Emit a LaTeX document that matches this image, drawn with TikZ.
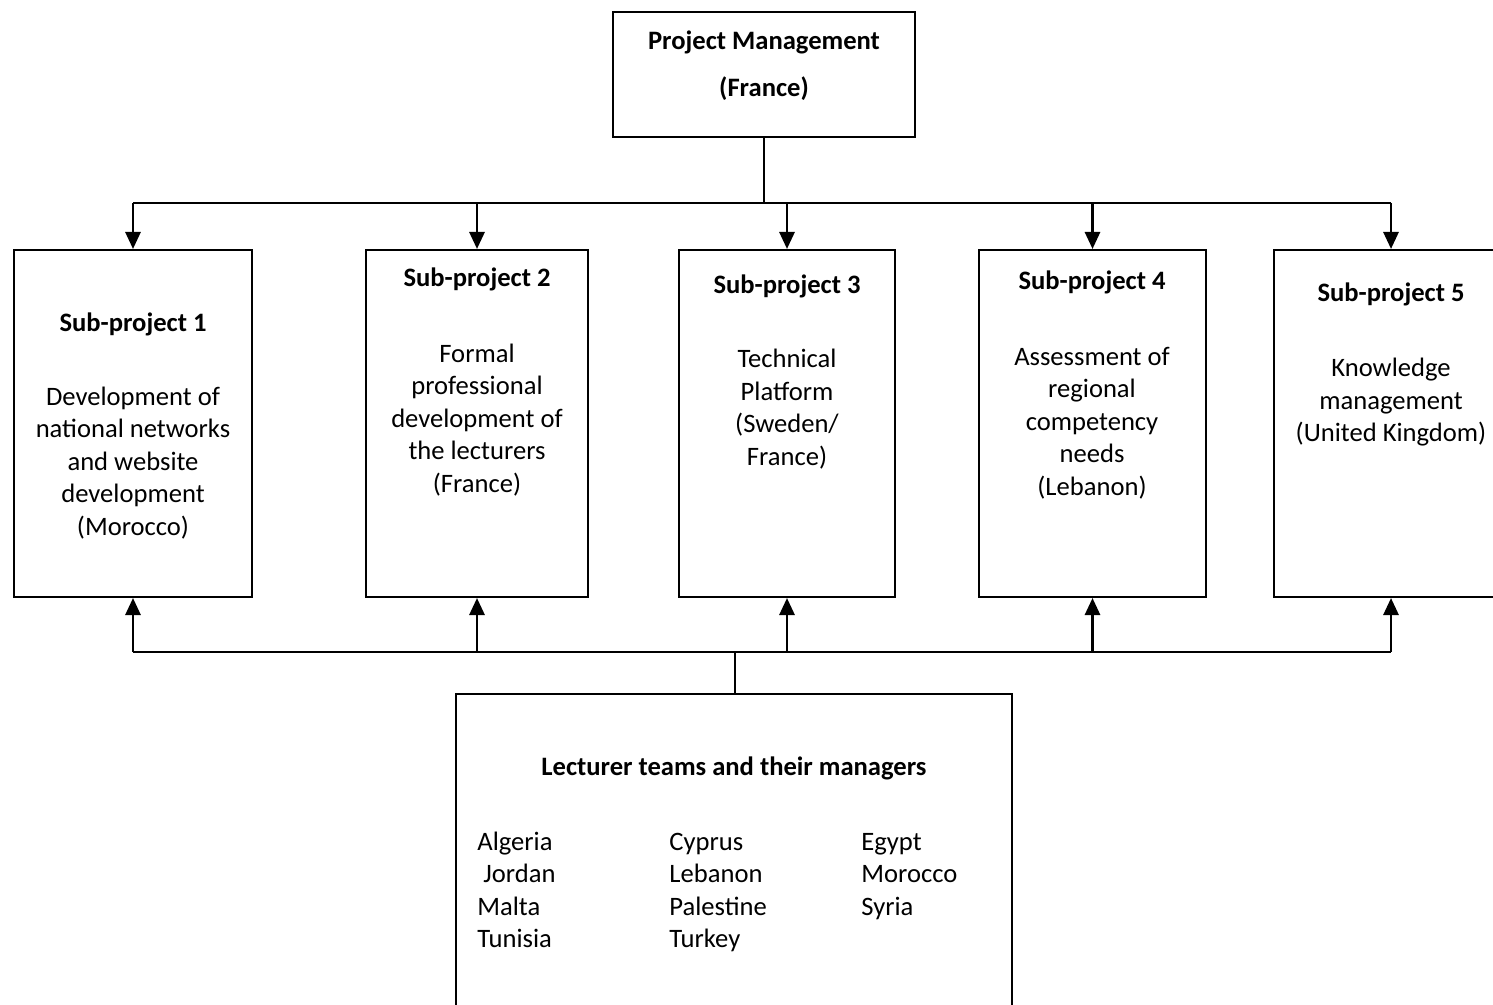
\documentclass[tikz,border=0pt]{standalone}
\usepackage{fontspec}
\setmainfont{Carlito}
\usetikzlibrary{arrows.meta}
\begin{document}
\begin{tikzpicture}[x=0.5pt,y=-0.5pt,
  box/.style={draw,line width=1pt,inner sep=0pt,minimum height=173.5pt},
  txt/.style={align=center,inner sep=0pt,font=\fontsize{13.3}{16.25}\selectfont},
  ttl/.style={align=center,inner sep=0pt,font=\fontsize{13.3}{16.25}\selectfont\bfseries},
  lst/.style={inner sep=0pt,anchor=west,text height=9pt,text depth=3pt,font=\fontsize{13.3}{16.25}\selectfont},
  conn/.style={line width=1.4pt},
  arr/.style={line width=1.4pt,-{Triangle[length=8.5pt,width=7.5pt]}},
  thin/.style={line width=1pt}]
\clip (0,0) rectangle (1493,1005);
\useasboundingbox (0,0) rectangle (1493,1005);
% top box
\node[draw,line width=1pt,inner sep=0pt,minimum width=151pt,minimum height=62.5pt] (top) at (764,74.5) {};
\node[ttl,font=\fontsize{13.3}{23.5}\selectfont\bfseries] (toptxt) at (764,66) {Project Management\\(France)};
% sub-project boxes
\node[box,minimum width=119pt] (b1) at (133,423.5) {};
\node[box,minimum width=111pt] (b2) at (477,423.5) {};
\node[box,minimum width=108pt] (b3) at (787,423.5) {};
\node[box,minimum width=113.5pt] (b4) at (1092.5,423.5) {};
\node[box,minimum width=117pt] (b5) at (1391,423.5) {};
% titles
\node[ttl] (t1) at (133,324) {Sub-project 1};
\node[ttl] (t2) at (477,279) {Sub-project 2};
\node[ttl] (t3) at (787,286) {Sub-project 3};
\node[ttl] (t4) at (1092,282) {Sub-project 4};
\node[ttl] (t5) at (1391,294) {Sub-project 5};
% bodies
\node[txt] (d1) at (133,463) {Development of\\national networks\\and website\\development\\(Morocco)};
\node[txt] (d2) at (477,420) {Formal\\professional\\development of\\the lecturers\\(France)};
\node[txt] (d3) at (787,409) {Technical\\Platform\\(Sweden/\\France)};
\node[txt] (d4) at (1092,423) {Assessment of\\regional\\competency\\needs\\(Lebanon)};
\node[txt] (d5) at (1391,402.5) {Knowledge\\management\\(United Kingdom)};
% bottom box
\node[draw,line width=1pt,inner sep=0pt,minimum width=278pt,minimum height=160.5pt] (bot) at (734,854.5) {};
\node[ttl] (bottitle) at (734,768) {Lecturer teams and their managers};
\node[lst] (c11) at (477,844) {Algeria};
\node[lst] (c12) at (483,876) {Jordan};
\node[lst] (c13) at (477,909) {Malta};
\node[lst] (c14) at (477,941) {Tunisia};
\node[lst] (c21) at (669,844) {Cyprus};
\node[lst] (c22) at (669,876) {Lebanon};
\node[lst] (c23) at (669,909) {Palestine};
\node[lst] (c24) at (669,941) {Turkey};
\node[lst] (c31) at (861,844) {Egypt};
\node[lst] (c32) at (861,876) {Morocco};
\node[lst] (c33) at (861,909) {Syria};
% bars
\coordinate (barT) at (0,203);
\coordinate (barB) at (0,652);
\coordinate (botJ) at (735,652);
\draw[thin] (top.south) -- (top.south |- barT);
\draw[conn] (b1.north |- barT) -- (b5.north |- barT);
\foreach \b in {b1,b2,b3,b4,b5} {\draw[arr] (\b.north |- barT) -- (\b.north);}
\draw[conn] (b1.south |- barB) -- (b5.south |- barB);
\foreach \b in {b1,b2,b3,b4,b5} {\draw[arr] (\b.south |- barB) -- (\b.south);}
\draw[thin] (bot.north -| botJ) -- (botJ);
\end{tikzpicture}
\end{document}
